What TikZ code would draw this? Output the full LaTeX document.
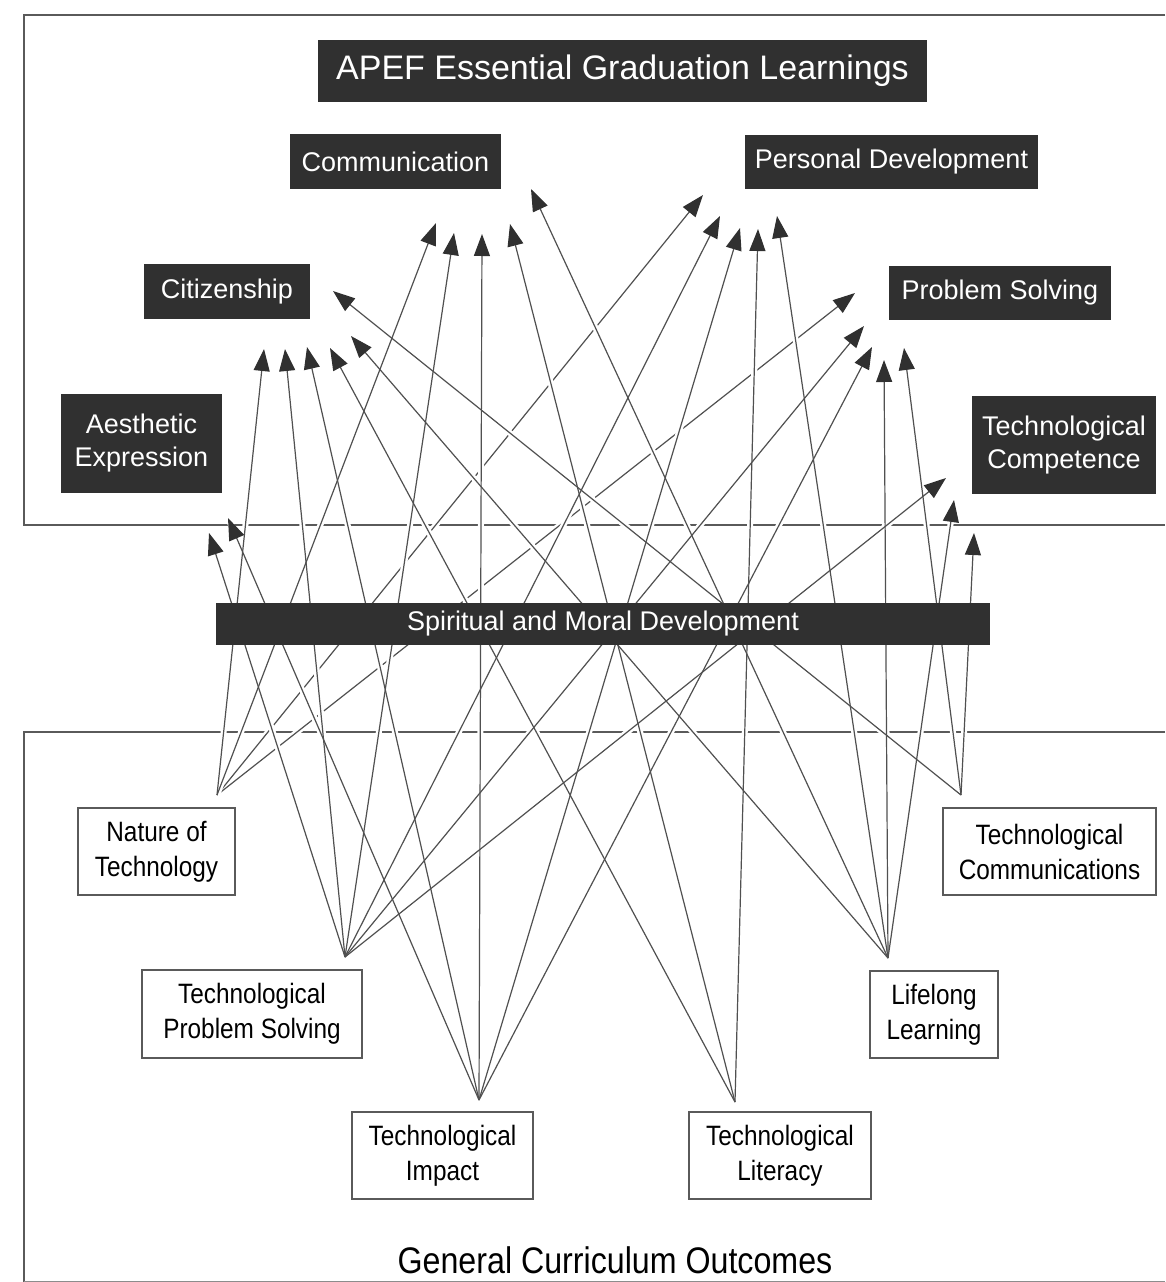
\documentclass[tikz,border=0pt]{standalone}
\usepackage{fontspec}
\setmainfont{Liberation Sans}
\newfontfamily\narrowfont{Liberation Sans}[FakeStretch=0.87]
\usetikzlibrary{arrows.meta}
\definecolor{boxdark}{RGB}{48,48,48}
\definecolor{linegray}{RGB}{80,80,80}
\definecolor{framegray}{RGB}{90,90,90}
\begin{document}
\begin{tikzpicture}[x=1pt,y=-1pt,
  egl/.style={fill=boxdark, text=white, inner sep=0pt, align=center,
    font=\fontsize{27}{33}\selectfont},
  gco/.style={draw=framegray, line width=1.4pt, fill=white, inner sep=0pt,
    align=center, text=black, font=\narrowfont\fontsize{28}{35}\selectfont},
  link/.style={draw=linegray, line width=1.2pt,
    -{Triangle[length=22pt,width=16pt,color=boxdark]}},
  halo/.style={draw=white, line width=6pt},
  frame/.style={draw=framegray, line width=1.4pt}]

\useasboundingbox (0,0) rectangle (1165,1282);
\fill[white] (0,0) rectangle (1165,1282);

% the two framed regions
\draw[frame] (1165,15) -- (24,15) -- (24,525) -- (1165,525);
\draw[frame] (1165,732) -- (24,732) -- (24,1282);
\draw[black!45, line width=0.8pt] (24,1281) -- (1165,1281);

% sources: one fan point above each curriculum outcome
\coordinate (sNoT) at (217,795);
\coordinate (sTPS) at (345,957);
\coordinate (sTI)  at (479,1100);
\coordinate (sTL)  at (735,1102);
\coordinate (sLL)  at (888,958);
\coordinate (sTC)  at (961,795);

% arrow tips below each graduation learning
\coordinate (tC1) at (436,223);
\coordinate (tC2) at (454,233);
\coordinate (tC3) at (482,234);
\coordinate (tC4) at (510,224);
\coordinate (tC5) at (531,189);
\coordinate (tP1) at (703,195);
\coordinate (tP2) at (720,216);
\coordinate (tP3) at (740,228);
\coordinate (tP4) at (758,229);
\coordinate (tP5) at (777,216);
\coordinate (tZ1) at (333,291);
\coordinate (tZ2) at (264,349);
\coordinate (tZ3) at (285,349);
\coordinate (tZ4) at (307,347);
\coordinate (tZ5) at (330,348);
\coordinate (tZ6) at (351,336);
\coordinate (tS1) at (855,293);
\coordinate (tS2) at (864,326);
\coordinate (tS3) at (872,347);
\coordinate (tS4) at (884,360);
\coordinate (tS5) at (904,348);
\coordinate (tT1) at (946,478);
\coordinate (tT2) at (954,500);
\coordinate (tT3) at (974,533);
\coordinate (tA1) at (209,533);
\coordinate (tA2) at (228,518);

% the two long shallow links go first, so the others cut across them
\foreach \s/\t in {sNoT/tP1, sNoT/tS1} {\draw[halo] (\s) -- (\t);}
\foreach \s/\t in {sNoT/tP1, sNoT/tS1} {\draw[link] (\s) -- (\t);}

\def\links{sNoT/tC1, sTPS/tC2, sTI/tC3, sTL/tC4, sLL/tC5,
  sTPS/tP2, sTI/tP3, sTL/tP4, sLL/tP5,
  sTC/tZ1, sNoT/tZ2, sTPS/tZ3, sTI/tZ4, sTL/tZ5, sLL/tZ6,
  sTPS/tS2, sTI/tS3, sLL/tS4, sTC/tS5,
  sTPS/tT1, sLL/tT2, sTC/tT3,
  sTPS/tA1, sTI/tA2}
\foreach \s/\t in \links {\draw[halo] (\s) -- (\t);}
\foreach \s/\t in \links {\draw[link] (\s) -- (\t);}

% essential graduation learnings
\node[egl, minimum width=609pt, minimum height=62pt, font=\fontsize{34}{40}\selectfont]
  (apef) at (622.5,71) {APEF Essential Graduation Learnings};
\node[egl, minimum width=211pt, minimum height=55pt] (comm) at (395.5,161.5) {Communication};
\node[egl, minimum width=293pt, minimum height=54pt] (pers) at (891.5,162) {Personal Development};
\node[egl, minimum width=166pt, minimum height=55pt] (citi) at (227,291.5) {Citizenship};
\node[egl, minimum width=222pt, minimum height=54pt] (prob) at (1000,293) {Problem Solving};
\node[egl, minimum width=161pt, minimum height=99pt] (aest) at (141.5,443.5) {Aesthetic\\Expression};
\node[egl, minimum width=184pt, minimum height=98pt] (tcom) at (1064,445) {Technological\\Competence};
\node[egl, minimum width=774pt, minimum height=42pt] (smd) at (603,624) {Spiritual and Moral Development};

% general curriculum outcomes
\node[gco, minimum width=157pt, minimum height=87pt] (nat) at (156.5,851.5) {Nature of\\Technology};
\node[gco, minimum width=220pt, minimum height=88pt] (tps) at (252,1014) {Technological\\Problem Solving};
\node[gco, minimum width=181pt, minimum height=87pt] (tim) at (442.5,1155.5) {Technological\\Impact};
\node[gco, minimum width=182pt, minimum height=87pt] (tli) at (780,1155.5) {Technological\\Literacy};
\node[gco, minimum width=128pt, minimum height=87pt] (lll) at (934,1014.5) {Lifelong\\Learning};
\node[gco, minimum width=213pt, minimum height=87pt] (tcm) at (1049.5,851.5) {Technological\\Communications};

\node[text=black, font=\narrowfont\fontsize{37}{42}\selectfont] (gcotitle) at (615,1260)
  {General Curriculum Outcomes};
\end{tikzpicture}
\end{document}
